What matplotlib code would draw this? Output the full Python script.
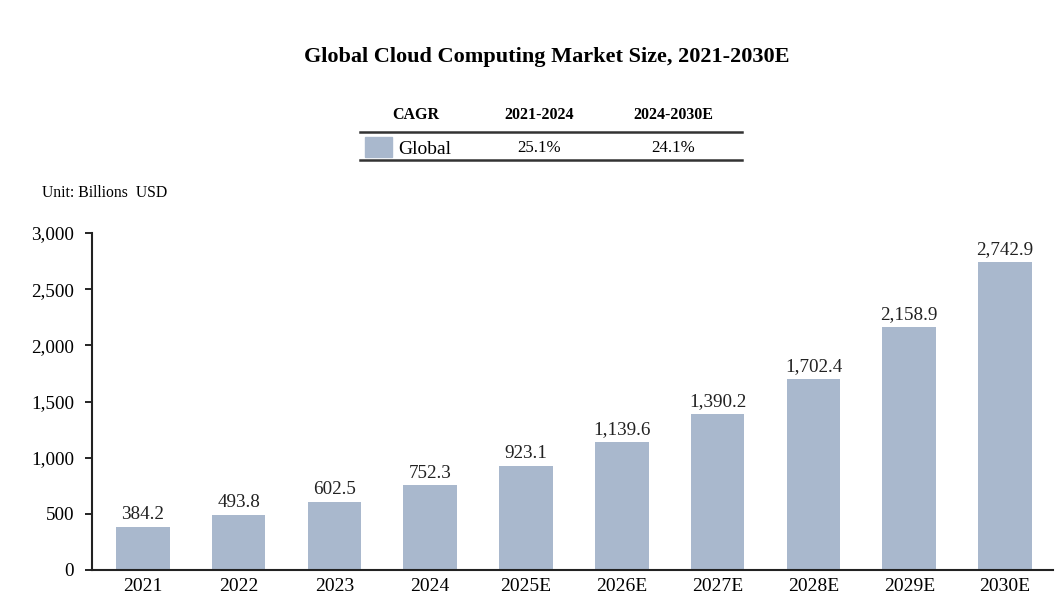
import matplotlib.pyplot as plt
from matplotlib.lines import Line2D
from matplotlib.patches import Rectangle
from matplotlib.ticker import FuncFormatter

plt.rcParams['font.family'] = ['Liberation Serif', 'DejaVu Serif']

# data
years = ['2021', '2022', '2023', '2024', '2025E', '2026E', '2027E', '2028E', '2029E', '2030E']
market_size = [384.2, 493.8, 602.5, 752.3, 923.1, 1139.6, 1390.2, 1702.4, 2158.9, 2742.9]
cagr_periods = ['2021-2024', '2024-2030E']
cagr_values = ['25.1%', '24.1%']

BAR_COLOR = '#A9B8CD'
W, H = 1056, 614

fig = plt.figure(figsize=(10.56, 6.14), dpi=100)
ax = fig.add_axes([92 / W, 1 - 570 / H, (1053 - 92) / W, (570 - 233) / H])

x = range(len(years))
ax.bar(x, market_size, width=0.56, color=BAR_COLOR)
for i, v in enumerate(market_size):
    ax.text(i, v + 35, f'{v:,.1f}', ha='center', va='bottom', fontsize=13.8, color='#222222')

ax.set_xlim(-0.53, 9.5)
ax.set_ylim(0, 3000)
ax.set_yticks(range(0, 3001, 500))
ax.yaxis.set_major_formatter(FuncFormatter(lambda v, p: f'{int(v):,}'))
ax.set_xticks(list(x))
ax.set_xticklabels(years)
ax.tick_params(axis='x', length=0, labelsize=14, pad=6)
ax.tick_params(axis='y', length=5, width=1.2, labelsize=13.8, pad=8, direction='out')
for s in ['top', 'right']:
    ax.spines[s].set_visible(False)
for s in ['left', 'bottom']:
    ax.spines[s].set_linewidth(1.5)
    ax.spines[s].set_color('#222222')

# title
def fx(px):
    return px / W

def fy(py):
    return 1 - py / H

fig.text(fx(547), fy(57), 'Global Cloud Computing Market Size, 2021-2030E',
         ha='center', va='center', fontsize=16, fontweight='bold')

# CAGR table
fig.text(fx(416), fy(115), 'CAGR', ha='center', va='center', fontsize=11.5, fontweight='bold')
col_x = [539, 673]
for cx, period, val in zip(col_x, cagr_periods, cagr_values):
    fig.text(fx(cx), fy(115), period, ha='center', va='center', fontsize=11.5, fontweight='bold')
    fig.text(fx(cx), fy(148), val, ha='center', va='center', fontsize=12.2)
fig.add_artist(Line2D([fx(360), fx(742)], [fy(132), fy(132)], color='#333333', linewidth=1.8))
fig.add_artist(Line2D([fx(360), fx(742)], [fy(160), fy(160)], color='#333333', linewidth=1.8))
fig.add_artist(Rectangle((fx(365), fy(157)), fx(392) - fx(365), fy(137) - fy(157),
                         transform=fig.transFigure, color=BAR_COLOR))
fig.text(fx(398), fy(149), 'Global', ha='left', va='center', fontsize=14)

# unit
fig.text(fx(42), fy(193), 'Unit: Billions  USD', ha='left', va='center', fontsize=11.3)

fig.savefig('out.png', dpi=100)
